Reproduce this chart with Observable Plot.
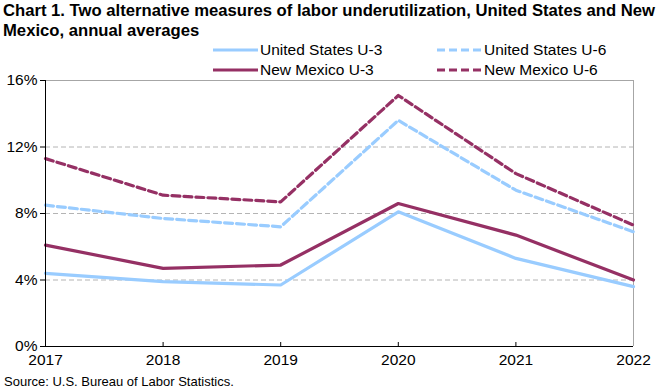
<!DOCTYPE html>
<html><head><meta charset="utf-8">
<script src="https://cdn.jsdelivr.net/npm/d3@7"></script>
<script src="https://cdn.jsdelivr.net/npm/@observablehq/plot@0.6"></script>
<style>
body{margin:0;background:#fff;font-family:"Liberation Sans",Arial,sans-serif;color:#000;}
#wrap{position:relative;width:661px;height:391px;overflow:hidden;background:#fff;}
#title{position:absolute;left:3px;top:1px;font-weight:bold;font-size:16px;line-height:20px;white-space:nowrap;transform-origin:0 0;z-index:2;}
#legend{position:absolute;left:0;top:0;z-index:2;}
.leg{position:absolute;display:flex;align-items:center;font-size:15.5px;white-space:nowrap;}
.leg svg{margin-right:2px;}
#chart{position:absolute;left:0;top:72px;z-index:1;}
#source{position:absolute;left:4px;top:374px;font-size:13px;white-space:nowrap;}
</style></head>
<body>
<div id="wrap">
  <div id="title">Chart 1. Two alternative measures of labor underutilization, United States and New<br>Mexico, annual averages</div>
  <div id="chart"></div>
  <div id="legend"></div>
  <div id="source">Source: U.S. Bureau of Labor Statistics.</div>
</div>
<script>
const years = [2017, 2018, 2019, 2020, 2021, 2022];
const usU3 = [4.4, 3.9, 3.7, 8.1, 5.3, 3.6];
const usU6 = [8.5, 7.7, 7.2, 13.6, 9.4, 6.9];
const nmU3 = [6.1, 4.7, 4.9, 8.6, 6.7, 4.0];
const nmU6 = [11.3, 9.1, 8.7, 15.1, 10.4, 7.3];
const seriesNames = ["United States U-3", "United States U-6", "New Mexico U-3", "New Mexico U-6"];
const yTicks = [0, 4, 8, 12, 16];

const blue = "#99ccff", maroon = "#953064";
const styles = {
  "United States U-3": {color: blue, dash: null},
  "United States U-6": {color: blue, dash: "8,4"},
  "New Mexico U-3": {color: maroon, dash: null},
  "New Mexico U-6": {color: maroon, dash: "8,4"}
};
const seriesValues = [usU3, usU6, nmU3, nmU6];
const data = [];
seriesNames.forEach((name, i) => years.forEach((yr, j) => data.push({series: name, year: yr, value: seriesValues[i][j]})));

// legend
const legend = document.getElementById("legend");
const legPos = [[213, 41], [437, 41], [213, 61], [437, 61]];
seriesNames.forEach((name, i) => {
  const d = document.createElement("div");
  d.className = "leg";
  d.style.left = legPos[i][0] + "px";
  d.style.top = legPos[i][1] + "px";
  const s = styles[name];
  d.innerHTML = `<svg width="45" height="18"><line x1="0" x2="45" y1="9" y2="9" stroke="${s.color}" stroke-width="3" ${s.dash ? `stroke-dasharray="${s.dash}"` : ""}/></svg><span>${name}</span>`;
  legend.appendChild(d);
});

const lineMarks = seriesNames.map(name => Plot.line(data.filter(d => d.series === name), {
  x: "year", y: "value", stroke: styles[name].color, strokeWidth: 3.2,
  strokeDasharray: styles[name].dash || undefined, strokeLinejoin: "round"
}));

const chart = Plot.plot({
  width: 661, height: 300,
  marginTop: 8, marginBottom: 26, marginLeft: 45, marginRight: 28,
  style: {fontFamily: "'Liberation Sans', Arial, sans-serif", fontSize: "15.5px", color: "#000", background: "transparent"},
  x: {domain: [2017, 2022]},
  y: {domain: [0, 16]},
  marks: [
    Plot.ruleY([4, 8, 12], {stroke: "#b4b4b4", strokeDasharray: "5,3"}),
    Plot.ruleY([16], {stroke: "#a6a6a6"}),
    Plot.ruleX([2022], {stroke: "#a6a6a6"}),
    ...lineMarks,
    Plot.ruleX([2017], {stroke: "#000"}),
    Plot.ruleY([0], {stroke: "#000"}),
    Plot.axisY({ticks: yTicks, tickFormat: d => d + "%", tickSize: 5, tickPadding: 3, stroke: "#000", label: null}),
    Plot.axisX({ticks: years, tickFormat: d => String(d), tickSize: 0, tickPadding: 7, label: null}),
    Plot.axisX({ticks: years.slice(1, -1), tickFormat: () => "", tickSize: -4, stroke: "#000", label: null})
  ]
});
document.getElementById("chart").appendChild(chart);

// fit title line width to reference
const t = document.getElementById("title");
const w = t.getBoundingClientRect().width;
const target = 652;
t.style.transform = `scaleX(${target / w})`;
</script>
</body></html>
